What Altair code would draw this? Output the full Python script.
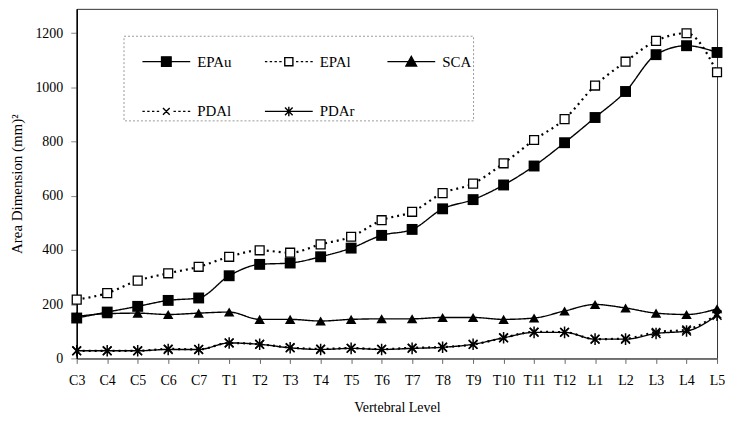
import altair as alt
import pandas as pd

levels = ["C3", "C4", "C5", "C6", "C7", "T1", "T2", "T3", "T4", "T5", "T6",
          "T7", "T8", "T9", "T10", "T11", "T12", "L1", "L2", "L3", "L4", "L5"]
EPAu = [149, 171, 192, 214, 223, 305, 347, 352, 375, 407, 454, 476, 552, 586,
        640, 710, 796, 889, 985, 1121, 1154, 1129]
EPAl = [217, 241, 287, 314, 338, 375, 399, 390, 421, 449, 510, 541, 610, 645,
        720, 806, 883, 1007, 1095, 1172, 1200, 1056]
SCA = [155, 165, 167, 162, 167, 171, 144, 144, 138, 144, 146, 146, 151, 151,
       144, 149, 175, 199, 186, 167, 162, 183]
PDAl = [28, 28, 28, 35, 33, 57, 52, 40, 35, 38, 34, 39, 42, 51, 76, 98, 97,
        71, 73, 97, 106, 163]
PDAr = [28, 28, 28, 33, 33, 57, 52, 39, 33, 37, 33, 37, 41, 52, 76, 96, 96,
        71, 71, 92, 101, 159]

series_names = ["EPAu", "EPAl", "SCA", "PDAl", "PDAr"]
series_values = [EPAu, EPAl, SCA, PDAl, PDAr]

rows = []
for name, vals in zip(series_names, series_values):
    for lv, v in zip(levels, vals):
        rows.append({"series": name, "level": lv, "value": v})
df = pd.DataFrame(rows)

FONT = "Liberation Serif"

x_enc = alt.X("level:N", sort=levels, scale=alt.Scale(type="point", padding=0),
              axis=alt.Axis(title="Vertebral Level", labelAngle=0, labelFont=FONT,
                            labelFontSize=14, titleFont=FONT, titleFontSize=14,
                            titleFontWeight="normal", labelColor="black",
                            titleColor="black", domainColor="#666", domainWidth=1.5,
                            tickColor="#666", tickSize=5, labelPadding=10,
                            titlePadding=13, grid=False))
y_enc = alt.Y("value:Q", scale=alt.Scale(domain=[0, 1290], nice=False),
              axis=alt.Axis(title="Area Dimension (mm)²", values=[0, 200, 400, 600, 800, 1000, 1200],
                            format="d", labelFont=FONT, labelFontSize=14, titleFont=FONT,
                            titleFontSize=15, titleFontWeight="normal",
                            labelColor="black", titleColor="black",
                            domainColor="black", domainWidth=1.5, tickColor="#888",
                            tickSize=6, labelPadding=8, titlePadding=10, grid=False))

base = alt.Chart(df)

xpath = "M-1,-1L1,1M-1,1L1,-1"
astpath = "M-1,-1L1,1M-1,1L1,-1M0,-1.3L0,1.3"

line_styles = {
    "EPAu": dict(strokeDash=[1, 0], strokeWidth=1.4),
    "EPAl": dict(strokeDash=[2, 4], strokeWidth=2.2),
    "SCA": dict(strokeDash=[1, 0], strokeWidth=1.4),
    "PDAl": dict(strokeDash=[2, 4], strokeWidth=2.2),
    "PDAr": dict(strokeDash=[1, 0], strokeWidth=1.4),
}
point_styles = {
    "EPAu": dict(shape="square", filled=True, color="black", size=120),
    "EPAl": dict(shape="square", fill="white", stroke="black", strokeWidth=1.3, size=80),
    "SCA": dict(shape="triangle-up", filled=True, color="black", size=110),
    "PDAl": dict(shape=xpath, filled=False, stroke="black", strokeWidth=1.5, size=70),
    "PDAr": dict(shape=astpath, filled=False, stroke="black", strokeWidth=1.5, size=80),
}

layers = []
for name in series_names:
    sub = base.transform_filter(alt.datum.series == name)
    layers.append(sub.mark_line(interpolate="monotone", color="black",
                                **line_styles[name]).encode(x=x_enc, y=y_enc))
for name in series_names:
    sub = base.transform_filter(alt.datum.series == name)
    layers.append(sub.mark_point(opacity=1, **point_styles[name]).encode(x=x_enc, y=y_enc))

dash = "M-1,0H-0.9M-0.8,0H-0.7M-0.6,0H-0.5M-0.4,0H-0.3M0.3,0H0.4M0.5,0H0.6M0.7,0H0.8M0.9,0H1"
solid = "M-1,0H1"
leg_paths = [
    solid + "M-0.2,-0.2H0.2V0.2H-0.2Z",
    dash + "M-0.17,-0.17H0.17V0.17H-0.17Z",
    solid + "M-0.22,0.18L0,-0.22L0.22,0.18Z",
    dash + "M-0.14,-0.14L0.14,0.14M-0.14,0.14L0.14,-0.14",
    solid + "M-0.16,-0.16L0.16,0.16M-0.16,0.16L0.16,-0.16M0,-0.2L0,0.2",
]
leg_fills = ["black", "white", "black", "black", "black"]
leg_strokes = ["black"] * 5

leg_props = dict(title=None, orient="none", legendX=47, legendY=27, columns=3,
                 direction="horizontal", symbolSize=2304,
                 symbolStrokeWidth=1.4, labelFont=FONT, labelFontSize=15,
                 labelColor="black", labelOffset=6, columnPadding=14, rowPadding=17,
                 padding=1, symbolOffset=17, gridAlign="all",
                 strokeColor="#999", symbolOpacity=1)

legend_layer = base.mark_point(filled=False, strokeWidth=1.4, opacity=0).encode(
    x=x_enc, y=y_enc,
    shape=alt.Shape("series:N", scale=alt.Scale(domain=series_names, range=leg_paths),
                    legend=alt.Legend(**leg_props)),
    fill=alt.Fill("series:N", scale=alt.Scale(domain=series_names, range=leg_fills),
                  legend=alt.Legend(**leg_props)),
    stroke=alt.Stroke("series:N", scale=alt.Scale(domain=series_names, range=leg_strokes),
                      legend=alt.Legend(**leg_props)),
)
layers.append(legend_layer)

chart = alt.layer(*layers).properties(
    width=643, height=351, autosize=alt.AutoSizeParams(type="none"),
    padding={"left": 69, "top": 0, "right": 8, "bottom": 60},
).configure_view(stroke="#333", strokeWidth=1).configure_legend(strokeDash=[2, 2])

chart.save("out.html", embed_options={"renderer": "svg", "actions": False})
